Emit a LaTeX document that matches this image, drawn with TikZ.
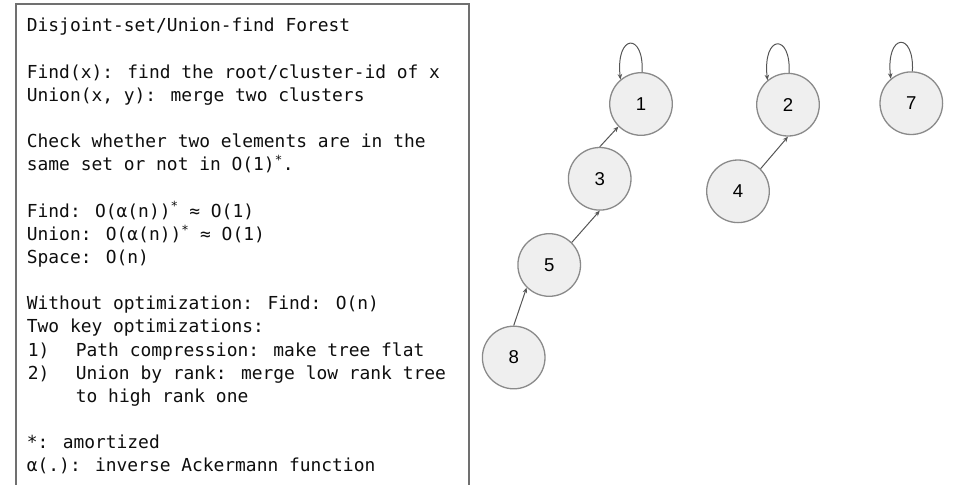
\documentclass[tikz,border=0pt]{standalone}
\usepackage{fontspec}
\setmainfont{Liberation Sans}
\newfontfamily\monofam{DejaVu Sans Mono}
\newfontfamily\numfam{Liberation Sans}
\usetikzlibrary{arrows.meta}
\definecolor{txtcol}{HTML}{0E0E0E}
\definecolor{boxcol}{HTML}{707070}
\definecolor{nodefill}{HTML}{EFEFEF}
\definecolor{nodeborder}{HTML}{8A8A8A}
\definecolor{edgecol}{HTML}{555555}
\tikzset{
  vertex/.style={circle, minimum size=62.6pt, inner sep=0pt, fill=nodefill, draw=nodeborder, line width=1.3pt, font=\numfam\fontsize{18.6}{20}\selectfont, text=black},
  edgearrow/.style={draw=edgecol, line width=1pt, -{Stealth[length=5.5pt,width=4.5pt]}},
  infobox/.style={draw=boxcol, line width=1.8pt},
  infotext/.style={anchor=north west, inner sep=0pt, align=left, text=txtcol, font=\monofam\fontsize{17.9}{23.16}\selectfont}
}
\begin{document}
\begin{tikzpicture}[x=1pt,y=-1pt]
\useasboundingbox (0,0) rectangle (962,485);
% info box (open at the bottom)
\draw[infobox] (16,487) -- (16,4) -- (469,4) -- (469,487);
\node[infotext] (info) at (26.7,17.7) {%
\rule{0pt}{14pt}Disjoint-set/Union-find Forest\\[23.16pt]
Find(x): find the root/cluster-id of x\\
Union(x, y): merge two clusters\\[23.16pt]
Check whether two elements are in the\\
same set or not in O(1)\textsuperscript{*}.\\[23.16pt]
Find: O(α(n))\textsuperscript{*} ≈ O(1)\\
Union: O(α(n))\textsuperscript{*} ≈ O(1)\\
Space: O(n)\\[23.16pt]
Without optimization: Find: O(n)\\
Two key optimizations:\\
\makebox[49pt][l]{\hspace*{1pt}1)}Path compression: make tree flat\\
\makebox[49pt][l]{\hspace*{1pt}2)}Union by rank: merge low rank tree\\
\hspace*{49pt}to high rank one\\[23.16pt]
*: amortized\\
α(.): inverse Ackermann function};
% forest
\node[vertex] (n1) at (641,104) {1};
\node[vertex] (n2) at (788,104.7) {2};
\node[vertex] (n7) at (911.3,103.2) {7};
\node[vertex] (n3) at (599.7,178.8) {3};
\node[vertex] (n4) at (738,191.3) {4};
\node[vertex] (n5) at (549.2,265) {5};
\node[vertex] (n8) at (513.7,357.5) {8};
% parent pointers
\draw[edgearrow] (n3.north) -- (n1.225);
\draw[edgearrow] (n5.45) -- (n3.south);
\draw[edgearrow] (n8.north) -- (n5.225);
\draw[edgearrow] (n4.45) -- (n2.south);
% self loops of roots
\draw[edgearrow] (n1.88) .. controls +(2,-40) and +(-5,-46) .. (n1.130);
\draw[edgearrow] (n2.88) .. controls +(2,-40) and +(-5,-46) .. (n2.130);
\draw[edgearrow] (n7.88) .. controls +(2,-40) and +(-5,-46) .. (n7.130);
\end{tikzpicture}
\end{document}
